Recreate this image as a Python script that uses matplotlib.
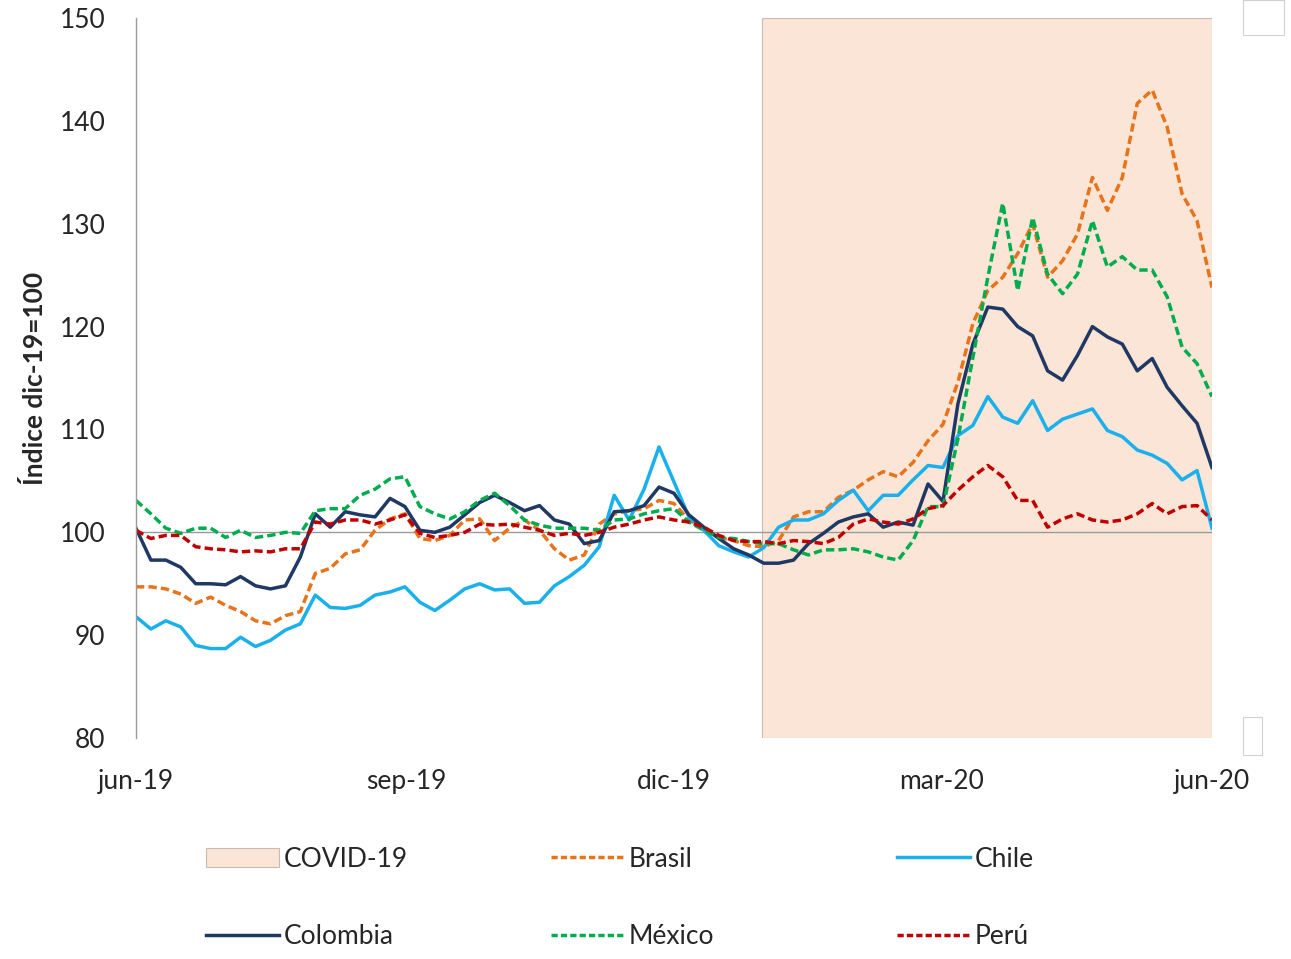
import matplotlib
matplotlib.use("Agg")
import matplotlib.pyplot as plt
from matplotlib.patches import Rectangle
from matplotlib.lines import Line2D
import pandas as pd

plt.rcParams['font.family'] = ['Lato', 'DejaVu Sans']

# fechas (aprox. cada 5 dias, jun-19 a jun-20)
fechas = pd.date_range('2019-06-01', '2020-06-01', periods=73)

brasil = [94.7, 94.7, 94.5, 94.0, 93.1, 93.7, 92.9, 92.3, 91.4, 91.1, 91.9, 92.3, 96.0, 96.5, 97.9,
          98.3, 100.2, 101.3, 101.8, 99.4, 99.2, 99.7, 101.2, 101.3, 99.2, 100.4, 101.2, 100.2, 98.4,
          97.3, 97.8, 100.8, 101.8, 102.1, 102.3, 103.1, 102.8, 101.2, 100.4, 99.5, 99.2, 98.7, 98.6,
          99.2, 101.5, 102.0, 102.0, 103.4, 104.1, 105.1, 105.9, 105.4, 106.8, 108.9, 110.5, 114.6,
          120.3, 123.5, 124.8, 127.1, 130.0, 124.8, 126.4, 129.0, 134.5, 131.3, 134.5, 141.7, 143.0,
          139.4, 132.9, 130.3, 123.8]
chile = [91.8, 90.6, 91.4, 90.8, 89.0, 88.7, 88.7, 89.8, 88.9, 89.5, 90.5, 91.1, 93.9, 92.7, 92.6,
         92.9, 93.9, 94.2, 94.7, 93.2, 92.4, 93.4, 94.5, 95.0, 94.4, 94.5, 93.1, 93.2, 94.8, 95.7,
         96.8, 98.6, 103.6, 101.2, 104.2, 108.3, 104.9, 101.5, 100.2, 98.7, 98.1, 97.6, 98.5, 100.5,
         101.2, 101.2, 101.8, 103.1, 104.1, 102.1, 103.6, 103.6, 105.1, 106.5, 106.3, 109.4, 110.4,
         113.2, 111.2, 110.6, 112.8, 109.9, 111.0, 111.5, 112.0, 109.9, 109.3, 108.0, 107.5, 106.7,
         105.1, 106.0, 100.4]
colombia = [100.4, 97.3, 97.3, 96.6, 95.0, 95.0, 94.9, 95.7, 94.8, 94.5, 94.8, 97.6, 101.8, 100.5,
            102.0, 101.7, 101.5, 103.3, 102.5, 100.2, 100.0, 100.5, 101.7, 102.9, 103.6, 102.9,
            102.1, 102.6, 101.2, 100.8, 98.9, 99.2, 102.0, 102.1, 102.6, 104.4, 103.8, 101.7, 100.5,
            99.4, 98.4, 97.8, 97.0, 97.0, 97.3, 98.9, 99.9, 101.0, 101.5, 101.8, 100.5, 101.0, 100.7,
            104.7, 103.0, 112.5, 118.3, 121.9, 121.7, 120.0, 119.1, 115.7, 114.8, 117.2, 120.0,
            119.0, 118.3, 115.7, 116.9, 114.1, 112.3, 110.6, 106.3]
mexico = [103.1, 101.8, 100.4, 99.9, 100.4, 100.4, 99.5, 100.2, 99.5, 99.7, 100.0, 99.9, 102.1,
          102.3, 102.3, 103.6, 104.2, 105.2, 105.4, 102.5, 101.8, 101.3, 102.0, 103.1, 103.8,
          102.6, 101.2, 100.7, 100.4, 100.4, 100.4, 100.2, 101.2, 101.3, 101.8, 102.1, 102.3,
          101.0, 100.2, 99.5, 99.4, 99.1, 98.9, 98.9, 98.3, 97.8, 98.3, 98.3, 98.4, 98.1, 97.6,
          97.3, 99.2, 102.5, 102.5, 109.1, 117.0, 124.8, 132.0, 123.5, 130.6, 125.1, 123.2, 125.1,
          130.3, 125.8, 126.8, 125.5, 125.5, 122.9, 118.0, 116.4, 113.2]
peru = [100.2, 99.4, 99.7, 99.7, 98.6, 98.4, 98.3, 98.1, 98.2, 98.1, 98.4, 98.4, 101.0, 100.8,
        101.2, 101.2, 100.8, 101.2, 101.7, 99.9, 99.5, 99.7, 100.0, 100.8, 100.7, 100.8, 100.5,
        100.2, 99.7, 99.9, 99.7, 100.0, 100.5, 100.8, 101.2, 101.5, 101.2, 101.0, 100.5, 99.7,
        99.2, 99.1, 99.1, 98.9, 99.2, 99.1, 98.9, 99.5, 100.8, 101.3, 101.0, 100.8, 101.3, 102.3,
        102.6, 104.1, 105.4, 106.5, 105.4, 103.1, 103.1, 100.5, 101.3, 101.8, 101.2, 101.0, 101.2,
        101.8, 102.8, 101.8, 102.5, 102.6, 101.2]

covid_ini = pd.Timestamp('2019-12-31')
covid_fin = pd.Timestamp('2020-06-01')

ticks_x = pd.to_datetime(['2019-06-01', '2019-09-01', '2019-12-01', '2020-03-01', '2020-06-01'])
labels_x = ['jun-19', 'sep-19', 'dic-19', 'mar-20', 'jun-20']

c_brasil = '#E8731A'
c_chile = '#1AB0EC'
c_colombia = '#1F3864'
c_mexico = '#00AD4E'
c_peru = '#C00000'
c_covid = '#FBE5D6'

fig = plt.figure(figsize=(12.91, 9.59), dpi=100)
ax = fig.add_axes([0.1053, 0.2304, 0.8335, 0.7508])

ax.axvspan(covid_ini, covid_fin, facecolor=c_covid, edgecolor='#c8bcb2', lw=0.8, zorder=0)
ax.axhline(100, color='#9a9a9a', lw=1.0, zorder=1)

lw = 2.5
dash = (2.4, 1.2)
ax.plot(fechas, brasil, color=c_brasil, lw=lw, dashes=dash, zorder=2)
ax.plot(fechas, chile, color=c_chile, lw=lw, zorder=2)
ax.plot(fechas, colombia, color=c_colombia, lw=lw, zorder=2)
ax.plot(fechas, mexico, color=c_mexico, lw=lw, dashes=dash, zorder=2)
ax.plot(fechas, peru, color=c_peru, lw=lw, dashes=dash, zorder=2)

ax.set_xlim(pd.Timestamp('2019-06-01'), pd.Timestamp('2020-06-01'))
ax.set_ylim(80, 150)
ax.set_yticks(range(80, 151, 10))
ax.set_xticks(ticks_x)
ax.set_xticklabels(labels_x)
ax.tick_params(axis='both', length=0, labelsize=19, colors='#262626')
ax.tick_params(axis='y', pad=22)
ax.tick_params(axis='x', pad=22)

for s in ['top', 'right', 'bottom']:
    ax.spines[s].set_visible(False)
ax.spines['left'].set_color('#9a9a9a')
ax.spines['left'].set_linewidth(1.0)

ax.set_ylabel('Índice dic-19=100', fontsize=19, fontweight='bold', color='#262626')
ax.yaxis.set_label_coords(-0.083, 0.5)

# leyenda en tres columnas
def col_leyenda(handles, labels, x):
    leg = fig.legend(handles, labels, loc='center left', bbox_to_anchor=(x, 0.0636),
                     frameon=False, fontsize=19, handlelength=2.75, handletextpad=0.2,
                     labelspacing=2.0, borderpad=0, borderaxespad=0)
    for t in leg.get_texts():
        t.set_color('#262626')

h_covid = Rectangle((0, 0), 1, 1, facecolor=c_covid, edgecolor='#c8bcb2', lw=0.8)
h_brasil = Line2D([], [], color=c_brasil, lw=lw, dashes=(1.8, 0.9))
h_chile = Line2D([], [], color=c_chile, lw=lw)
h_colombia = Line2D([], [], color=c_colombia, lw=lw)
h_mexico = Line2D([], [], color=c_mexico, lw=lw, dashes=(1.8, 0.9))
h_peru = Line2D([], [], color=c_peru, lw=lw, dashes=(1.8, 0.9))

col_leyenda([h_covid, h_colombia], ['COVID-19', 'Colombia'], 0.1596)
col_leyenda([h_brasil, h_mexico], ['Brasil', 'México'], 0.4268)
col_leyenda([h_chile, h_peru], ['Chile', 'Perú'], 0.6948)

# recuadros residuales del grafico original
fig.patches.append(Rectangle((0.9628, 0.9635), 0.0318, 0.0365, transform=fig.transFigure,
                             facecolor='white', edgecolor='#d0d0d0', lw=0.8))
fig.patches.append(Rectangle((0.9628, 0.2127), 0.0147, 0.0396, transform=fig.transFigure,
                             facecolor='white', edgecolor='#d0d0d0', lw=0.8))

fig.savefig('out.png', dpi=100)
